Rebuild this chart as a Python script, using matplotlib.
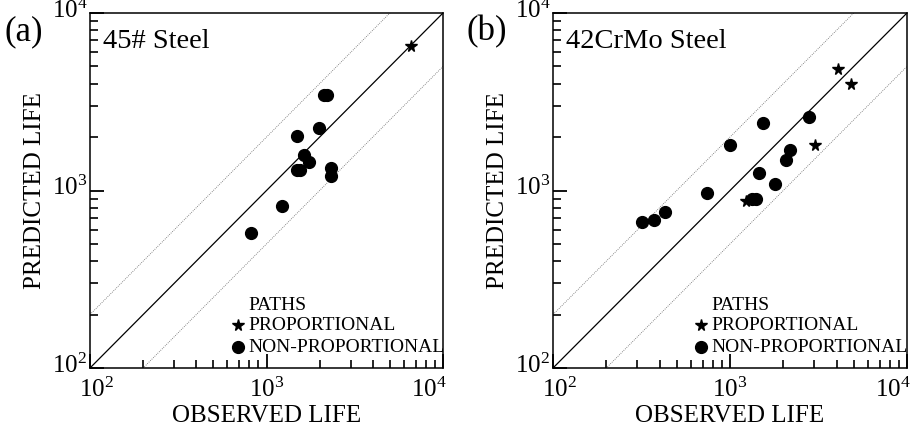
import matplotlib
matplotlib.use("Agg")
import matplotlib.pyplot as plt
from matplotlib.ticker import FixedLocator, NullFormatter, LogFormatterMathtext
from matplotlib.transforms import ScaledTranslation
import numpy as np

plt.rcParams['font.family'] = ['Liberation Serif', 'DejaVu Serif']
plt.rcParams['mathtext.fontset'] = 'stix'

# Panel (a): 45# Steel
a_prop_obs = [6600]
a_prop_pred = [6500]
a_nonprop_obs = [2120, 2200, 1980, 1480, 1630, 1730, 1490, 1540, 2320, 2320, 1220, 820]
a_nonprop_pred = [3450, 3450, 2240, 2030, 1580, 1440, 1300, 1300, 1345, 1200, 820, 575]

# Panel (b): 42CrMo Steel
b_prop_obs = [4090, 4830, 3020, 1230]
b_prop_pred = [4840, 3960, 1800, 873]
b_nonprop_obs = [1540, 2800, 1000, 2180, 2070, 1450, 1800, 1340, 1400, 740, 430, 372, 320]
b_nonprop_pred = [2410, 2600, 1800, 1690, 1490, 1260, 1090, 900, 900, 964, 753, 679, 662]

major_ticks = [100, 1000, 10000]
minor_ticks = [m * d for d in (100, 1000) for m in range(2, 10)]

panels = [
    dict(label='(a)', title='45# Steel', po=a_prop_obs, pp=a_prop_pred,
         no=a_nonprop_obs, np_=a_nonprop_pred),
    dict(label='(b)', title='42CrMo Steel', po=b_prop_obs, pp=b_prop_pred,
         no=b_nonprop_obs, np_=b_nonprop_pred),
]

lims = [100, 10000]
fig = plt.figure(figsize=(9.17, 4.30), dpi=100)
W, H = 917, 430
rects = [(90, 13, 353, 355), (553, 13, 354, 355)]
FS = 18
LFS = 14

for rect, p in zip(rects, panels):
    x0, y0, w, h = rect
    ax = fig.add_axes([x0 / W, (H - y0 - h) / H, w / W, h / H])
    ax.set_xscale('log')
    ax.set_yscale('log')
    ax.set_xlim(lims)
    ax.set_ylim(lims)
    line = np.array(lims, dtype=float)
    ax.plot(line, line, color='black', lw=0.9)
    ax.plot(line, line * 2, color='#666666', lw=0.6, ls=(0, (1, 1.5)))
    ax.plot(line, line / 2, color='#666666', lw=0.6, ls=(0, (1, 1.5)))
    ax.plot(p['no'], p['np_'], 'o', color='black', ms=8.5, ls='none')
    ax.plot(p['po'], p['pp'], '*', color='black', ms=8.5, ls='none')

    for s in ax.spines.values():
        s.set_linewidth(1.1)
    for axis in (ax.xaxis, ax.yaxis):
        axis.set_major_locator(FixedLocator(major_ticks))
        axis.set_minor_locator(FixedLocator(minor_ticks))
        axis.set_major_formatter(LogFormatterMathtext())
        axis.set_minor_formatter(NullFormatter())
    ax.tick_params(which='both', direction='in', top=False, right=False,
                   color='black')
    ax.tick_params(which='major', length=10, width=1.3, labelsize=FS)
    ax.tick_params(which='minor', length=6, width=1.2)
    ax.tick_params(axis='x', which='major', pad=7)
    ax.tick_params(axis='y', which='major', pad=2)

    # shift y tick labels up a bit (digits sit on the tick)
    for lab in ax.get_yticklabels():
        lab.set_transform(lab.get_transform() + ScaledTranslation(0, 3.5 / 72, fig.dpi_scale_trans))
    xl = ax.get_xticklabels()
    xl[0].set_transform(xl[0].get_transform() + ScaledTranslation(5 / 72, 0, fig.dpi_scale_trans))
    xl[-1].set_horizontalalignment('right')
    xl[-1].set_transform(xl[-1].get_transform() + ScaledTranslation(3 / 72, 0, fig.dpi_scale_trans))

    ax.set_xlabel('OBSERVED LIFE', fontsize=FS, labelpad=2)
    ax.set_ylabel('PREDICTED LIFE', fontsize=FS, labelpad=4)

    ax.text(0.037, 0.92, p['title'], transform=ax.transAxes, fontsize=20.5,
            ha='left', va='center')
    fig.text((x0 - 86) / W, 1 - 32 / H, p['label'], fontsize=25,
             ha='left', va='center')

    # legend
    ax.text(0.448, 0.177, 'PATHS', transform=ax.transAxes, fontsize=LFS,
            ha='left', va='center')
    ax.plot([0.418], [0.121], '*', color='black', ms=8.5, transform=ax.transAxes)
    ax.text(0.448, 0.121, 'PROPORTIONAL', transform=ax.transAxes, fontsize=LFS,
            ha='left', va='center')
    ax.plot([0.418], [0.059], 'o', color='black', ms=8.5, transform=ax.transAxes)
    ax.text(0.448, 0.059, 'NON-PROPORTIONAL', transform=ax.transAxes, fontsize=LFS,
            ha='left', va='center')

fig.savefig('out.png', dpi=100)
